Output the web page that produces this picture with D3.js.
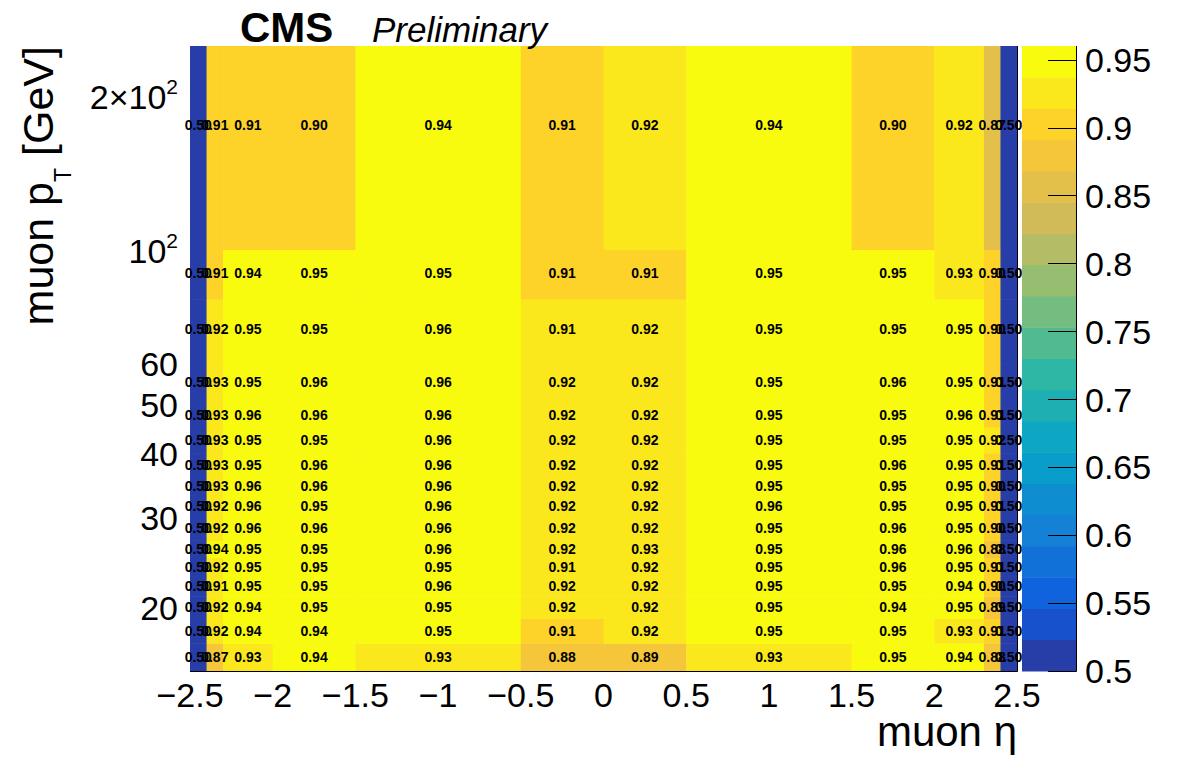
<!DOCTYPE html>
<html><head><meta charset="utf-8">
<script src="https://cdn.jsdelivr.net/npm/d3@7"></script>
<style>body{margin:0;background:#fff} text{font-family:"Liberation Sans",Arial,Helvetica,sans-serif}</style>
</head><body><svg id="c" width="1196" height="772"></svg>
<script>
// ---- binning ----
const etaEdges = [-2.5,-2.4,-2.3,-2.0,-1.5,-0.5,0,0.5,1.5,2.0,2.3,2.4,2.5];
const ptEdges  = [15,17,19,21,23,25,27,30,33,36,40,45,50,60,80,100,250];

// ---- efficiency per pT bin (eta bins left to right) ----
const eff_pt15_17   = [0.50,0.87,0.93,0.94,0.93,0.88,0.888,0.93,0.95,0.94,0.88,0.50];
const eff_pt17_19   = [0.50,0.92,0.94,0.94,0.95,0.91,0.92,0.95,0.95,0.93,0.91,0.50];
const eff_pt19_21   = [0.50,0.92,0.94,0.95,0.95,0.92,0.92,0.95,0.94,0.95,0.89,0.50];
const eff_pt21_23   = [0.50,0.914,0.95,0.95,0.96,0.92,0.92,0.95,0.95,0.94,0.90,0.50];
const eff_pt23_25   = [0.50,0.92,0.95,0.95,0.95,0.914,0.92,0.95,0.96,0.95,0.91,0.50];
const eff_pt25_27   = [0.50,0.94,0.95,0.95,0.96,0.92,0.93,0.95,0.96,0.96,0.88,0.50];
const eff_pt27_30   = [0.50,0.92,0.96,0.96,0.96,0.92,0.92,0.95,0.96,0.95,0.90,0.50];
const eff_pt30_33   = [0.50,0.92,0.96,0.95,0.96,0.92,0.92,0.96,0.95,0.95,0.91,0.50];
const eff_pt33_36   = [0.50,0.93,0.96,0.96,0.9588,0.92,0.92,0.95,0.95,0.95,0.90,0.50];
const eff_pt36_40   = [0.50,0.93,0.95,0.96,0.96,0.92,0.92,0.95,0.96,0.95,0.91,0.50];
const eff_pt40_45   = [0.50,0.93,0.95,0.95,0.96,0.92,0.92,0.95,0.95,0.95,0.92,0.50];
const eff_pt45_50   = [0.50,0.93,0.96,0.96,0.96,0.92,0.92,0.95,0.95,0.96,0.91,0.50];
const eff_pt50_60   = [0.50,0.93,0.95,0.96,0.96,0.92,0.92,0.95,0.96,0.95,0.91,0.50];
const eff_pt60_80   = [0.50,0.92,0.95,0.95,0.96,0.914,0.92,0.95,0.95,0.95,0.90,0.50];
const eff_pt80_100  = [0.50,0.91,0.94,0.95,0.95,0.91,0.91,0.95,0.95,0.93,0.90,0.50];
const eff_pt100_250 = [0.50,0.91,0.91,0.90,0.94,0.91,0.92,0.94,0.90,0.92,0.866,0.50];
const effRows = [eff_pt15_17,eff_pt17_19,eff_pt19_21,eff_pt21_23,eff_pt23_25,eff_pt25_27,eff_pt27_30,
  eff_pt30_33,eff_pt33_36,eff_pt36_40,eff_pt40_45,eff_pt45_50,eff_pt50_60,eff_pt60_80,eff_pt80_100,eff_pt100_250];

// ---- ticks ----
const xTicks = [-2.5,-2,-1.5,-1,-0.5,0,0.5,1,1.5,2,2.5];
const xTickLabels = ["\u22122.5","\u22122","\u22121.5","\u22121","\u22120.5","0","0.5","1","1.5","2","2.5"];
const yTicks = [20,30,40,50,60,100,200];
const yTickBase = ["20","30","40","50","60","10","2\u00d710"];
const yTickSup  = ["","","","","","2","2"];
const zTicks = [0.5,0.55,0.6,0.65,0.7,0.75,0.8,0.85,0.9,0.95];
const zTickLabels = ["0.5","0.55","0.6","0.65","0.7","0.75","0.8","0.85","0.9","0.95"];
const nContours = 20;

// kBird palette
const birdStops = [0.0,0.125,0.25,0.375,0.5,0.625,0.75,0.875,1.0];
const birdR = [0.2082,0.0592,0.0780,0.0232,0.1802,0.5301,0.8186,0.9956,0.9764];
const birdG = [0.1664,0.3599,0.5041,0.6419,0.7178,0.7492,0.7328,0.7862,0.9832];
const birdB = [0.5293,0.8684,0.8385,0.7914,0.6425,0.4662,0.3499,0.1968,0.0539];

const svg = d3.select("#c");
svg.append("rect").attr("width",1196).attr("height",772).attr("fill","#fff");

const L = 190, R = 1017, T = 46, B = 671;
const x = d3.scaleLinear().domain([etaEdges[0], etaEdges[etaEdges.length-1]]).range([L, R]);
const y = d3.scaleLog().domain([ptEdges[0], ptEdges[ptEdges.length-1]]).range([B, T]);

const allVals = effRows.flat();
const zmin = d3.min(allVals), zmax = d3.max(allVals);
const birdR_s = d3.scaleLinear().domain(birdStops).range(birdR);
const birdG_s = d3.scaleLinear().domain(birdStops).range(birdG);
const birdB_s = d3.scaleLinear().domain(birdStops).range(birdB);
function bandColor(i){
  const idx = Math.floor((i+0.99)*255/nContours);
  const f = Math.min(idx,254)/254;
  return d3.rgb(birdR_s(f)*255, birdG_s(f)*255, birdB_s(f)*255).formatHex();
}
function bandOf(v){
  let i = Math.floor((v - zmin)/(zmax - zmin)*nContours);
  return Math.max(0, Math.min(nContours-1, i));
}

// cells
const cells = [];
effRows.forEach((row,j)=>row.forEach((v,i)=>cells.push({i,j,v})));
const g = svg.append("g");
g.selectAll("rect.cell").data(cells).enter().append("rect")
  .attr("x", d=>x(etaEdges[d.i]))
  .attr("width", d=>x(etaEdges[d.i+1]) - x(etaEdges[d.i]) + 0.5)
  .attr("y", d=>y(ptEdges[d.j+1]))
  .attr("height", d=>y(ptEdges[d.j]) - y(ptEdges[d.j+1]) + 0.5)
  .attr("fill", d=>bandColor(bandOf(d.v)));

g.selectAll("text.cell").data(cells).enter().append("text")
  .attr("x", d=>x((etaEdges[d.i]+etaEdges[d.i+1])/2))
  .attr("y", d=>y((ptEdges[d.j]+ptEdges[d.j+1])/2))
  .attr("dy","0.36em")
  .attr("text-anchor","middle")
  .attr("font-size",14).attr("font-weight","bold")
  .text(d=>d3.format(".2f")(d.v));

// frame lines
svg.append("line").attr("x1",L).attr("x2",R+0.5).attr("y1",B+0.5).attr("y2",B+0.5).attr("stroke","#000");
svg.append("line").attr("x1",R+0.5).attr("x2",R+0.5).attr("y1",T).attr("y2",B+0.5).attr("stroke","#000");

// x tick labels
svg.selectAll("text.xt").data(xTicks).enter().append("text")
  .attr("x", d=>x(d)).attr("y", 707).attr("text-anchor","middle").attr("font-size",34)
  .text((d,k)=>xTickLabels[k]);

// y tick labels
const yt = svg.selectAll("text.yt").data(yTicks).enter().append("text")
  .attr("x",178).attr("y", d=>y(d)+13).attr("text-anchor","end").attr("font-size",34);
yt.append("tspan").text((d,k)=>yTickBase[k]);
yt.append("tspan").attr("font-size",21).attr("dy",-15).text((d,k)=>yTickSup[k]);

// axis titles
svg.append("text").attr("x",R).attr("y",746).attr("text-anchor","end").attr("font-size",42)
  .text("muon \u03b7");
const yTitle = svg.append("text").attr("transform","translate(53,46) rotate(-90)")
  .attr("text-anchor","end").attr("font-size",43);
yTitle.append("tspan").text("muon p");
yTitle.append("tspan").attr("font-size",23).attr("dy",18).text("T");
yTitle.append("tspan").attr("dy",-18).text(" [GeV]");

// CMS labels
svg.append("text").attr("x",240).attr("y",42).attr("font-size",42).attr("font-weight","bold").text("CMS");
svg.append("text").attr("x",372).attr("y",42).attr("font-size",35).attr("font-style","italic").text("Preliminary");

// colour bar
const CL = 1022, CR = 1076;
const z = d3.scaleLinear().domain([zmin, zmax]).range([B, T]);
const bands = d3.range(nContours);
const dz = (zmax - zmin)/nContours;
svg.selectAll("rect.band").data(bands).enter().append("rect")
  .attr("x",CL).attr("width",CR-CL)
  .attr("y", d=>z(zmin+(d+1)*dz)).attr("height", d=>z(zmin+d*dz)-z(zmin+(d+1)*dz)+0.5)
  .attr("fill", d=>bandColor(d));
svg.append("line").attr("x1",CR+0.5).attr("x2",CR+0.5).attr("y1",T).attr("y2",B+0.5).attr("stroke","#000");
svg.selectAll("line.zt").data(zTicks).enter().append("line")
  .attr("x1",CR-28).attr("x2",CR+0.5).attr("y1",d=>Math.round(z(d))+0.5).attr("y2",d=>Math.round(z(d))+0.5)
  .attr("stroke","#000");
svg.selectAll("text.zt").data(zTicks).enter().append("text")
  .attr("x",1085).attr("y",d=>z(d)).attr("dy","0.36em").attr("font-size",34)
  .text((d,k)=>zTickLabels[k]);
</script></body></html>
